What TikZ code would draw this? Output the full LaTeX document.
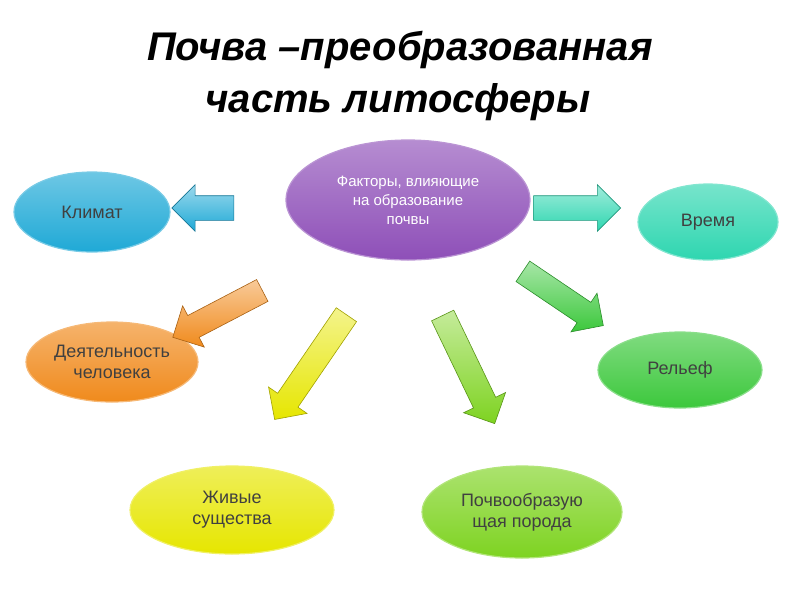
\documentclass[tikz,border=0pt]{standalone}
\usepackage{fontspec}
\setmainfont{Liberation Sans}
\usetikzlibrary{shapes.geometric,shapes.arrows}
\begin{document}
\begin{tikzpicture}[x=1pt,y=-1pt,
  oval/.style={ellipse,draw=#1!60!white,line width=1.2pt,top color=#1!65!white,bottom color=#1,align=center,font=\fontsize{18}{21}\selectfont,text=black!75,inner sep=0pt},
  barrow/.style={single arrow,draw=#1!70!black,line width=0.6pt,top color=#1!45!white,bottom color=#1,minimum width=46pt,single arrow head extend=11pt,inner xsep=0pt,inner ysep=12pt,font=\fontsize{1}{1}\selectfont}]
\useasboundingbox (0,0) rectangle (800,600);
\definecolor{cpur}{HTML}{8E4FB8}
\definecolor{cblue}{HTML}{1FA9D6}
\definecolor{cteal}{HTML}{2ED6B0}
\definecolor{cora}{HTML}{F08A1C}
\definecolor{cgrn}{HTML}{3CC83C}
\definecolor{cyel}{HTML}{E6E600}
\definecolor{clim}{HTML}{7ED321}
\node[font=\bfseries\itshape\fontsize{40}{44}\selectfont] (t1) at (400,50) {Почва –преобразованная};
\node[font=\bfseries\itshape\fontsize{40}{44}\selectfont] (t2) at (398,102) {часть литосферы};
\node[oval=cpur,minimum width=244pt,minimum height=120pt,text=white,font=\fontsize{15}{19}\selectfont] (c) at (408,200) {Факторы, влияющие\\на образование\\почвы};
\node[oval=cblue,minimum width=156pt,minimum height=80pt] (k) at (92,212) {Климат};
\node[oval=cteal,minimum width=140pt,minimum height=76pt] (v) at (708,222) {Время};
\node[oval=cora,minimum width=172pt,minimum height=80pt] (d) at (112,362) {Деятельность\\человека};
\node[oval=cgrn,minimum width=164pt,minimum height=76pt] (r) at (680,370) {Рельеф};
\node[oval=cyel,minimum width=204pt,minimum height=88pt] (zh) at (232,510) {Живые\\существа};
\node[oval=clim,minimum width=200pt,minimum height=92pt] (p) at (522,512) {Почвообразую\\щая порода};
\node[barrow=cblue,minimum height=62pt,rotate=180] (a1) at (209,208) {};
\node[barrow=cteal,minimum height=87pt] (a2) at (571,208) {};
\node[barrow=cora,minimum height=101pt,rotate=207.6] (a3) at (223,311) {};
\node[barrow=cyel,minimum height=127pt,rotate=235.6] (a4) at (314,362) {};
\node[barrow=clim,minimum height=120pt,rotate=-64.3] (a5) at (466,364) {};
\node[barrow=cgrn,minimum height=97pt,rotate=-34] (a6) at (558,295) {};
\end{tikzpicture}
\end{document}
